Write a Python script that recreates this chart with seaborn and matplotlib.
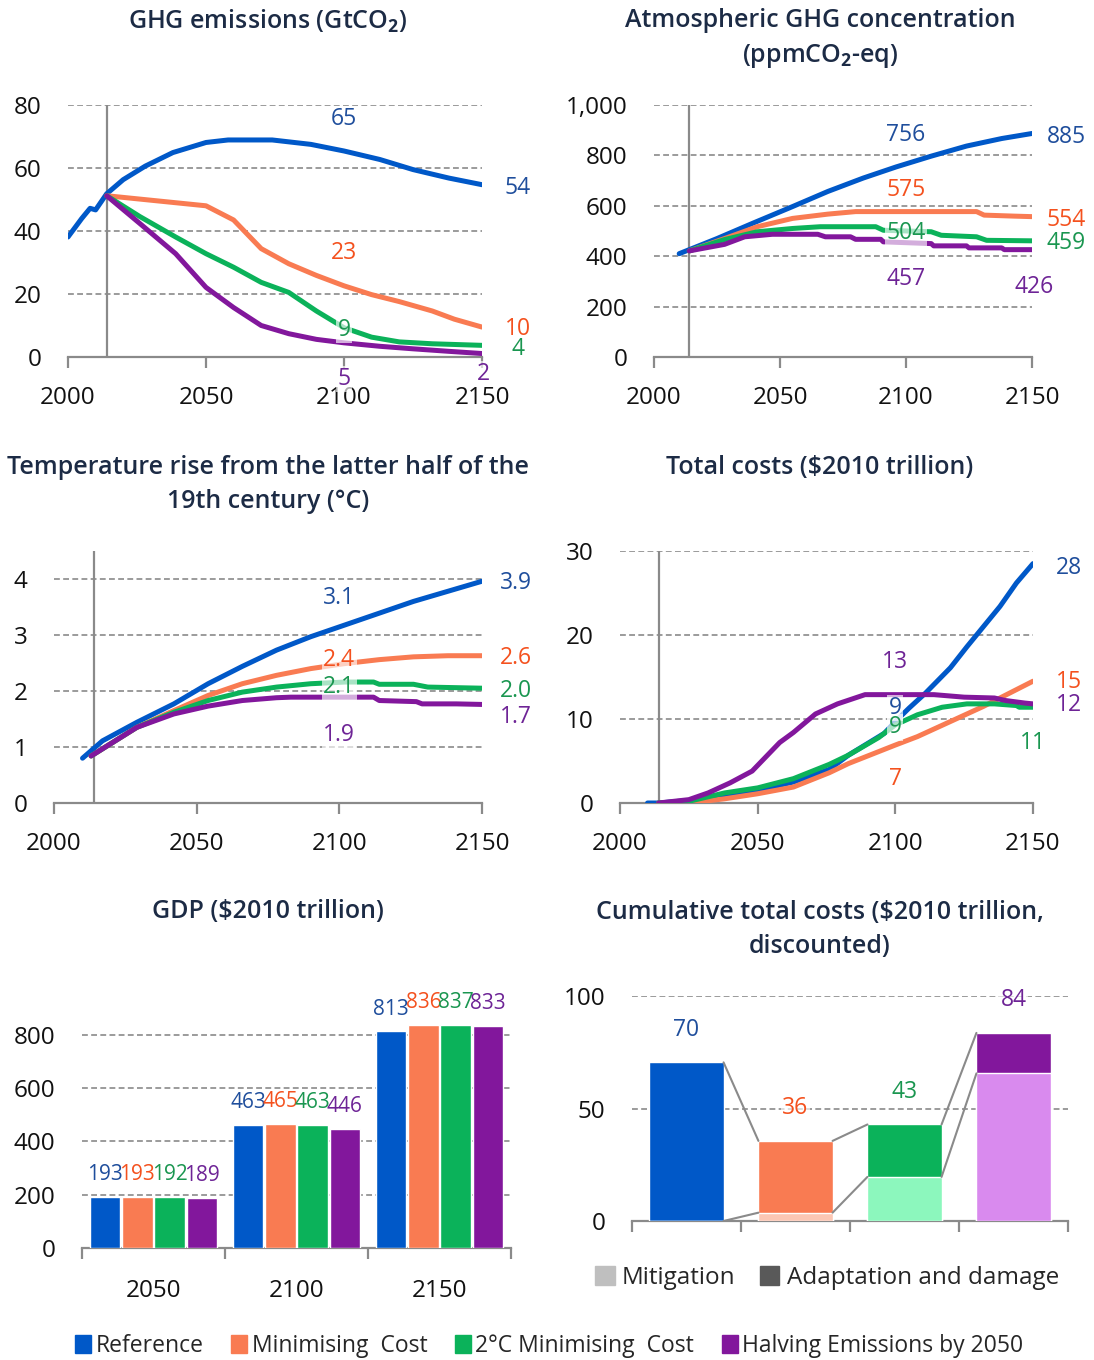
import numpy as np
import pandas as pd
import matplotlib
matplotlib.use("Agg")
import matplotlib.pyplot as plt
from matplotlib.patches import Patch
import seaborn as sns

# ---------------- data ----------------
SCENARIOS = ["Reference", "Minimising  Cost", "2°C Minimising  Cost", "Halving Emissions by 2050"]
LINE_COLORS = ["#0058C8", "#F97B52", "#0BB25A", "#82179C"]
TEXT_COLORS = ["#1F4E9C", "#F4511E", "#1A9650", "#6E2496"]
LIGHT_COLORS = ["#0058C8", "#FCC7B4", "#8CF7BD", "#D98AEE"]

# GHG emissions (GtCO2)
GHG_REF_YEARS = [2000, 2005, 2008, 2010, 2014, 2020, 2028, 2038, 2050, 2058, 2074, 2088, 2100, 2113, 2125, 2138, 2150]
GHG_REF = [38.1, 44.0, 47.2, 46.7, 51.8, 56.3, 60.6, 64.9, 68.1, 68.9, 68.9, 67.5, 65.4, 62.7, 59.5, 56.8, 54.7]
GHG_MC_YEARS = [2014, 2050, 2060, 2070, 2080, 2090, 2100, 2110, 2120, 2132, 2140, 2150]
GHG_MC = [51.2, 48.0, 43.5, 34.4, 29.6, 25.9, 22.6, 19.8, 17.6, 14.6, 12.0, 9.5]
GHG_2C_YEARS = [2014, 2026, 2039, 2050, 2060, 2070, 2080, 2090, 2100, 2110, 2120, 2132, 2150]
GHG_2C = [51.2, 44.6, 38.1, 32.8, 28.5, 23.7, 20.5, 14.6, 9.3, 6.3, 4.8, 4.2, 3.7]
GHG_HALF_YEARS = [2014, 2026, 2039, 2050, 2060, 2070, 2080, 2090, 2100, 2113, 2125, 2138, 2150]
GHG_HALF = [51.2, 42.4, 32.8, 22.1, 15.7, 10.0, 7.4, 5.6, 4.5, 3.4, 2.6, 1.8, 1.1]
GHG_MID_LABELS = ["65", "23", "9", "5"]
GHG_END_LABELS = ["54", "10", "4", "2"]

# Atmospheric GHG concentration (ppmCO2-eq)
CONC_REF_YEARS = [2010, 2025, 2039, 2055, 2069, 2083, 2096, 2110, 2124, 2138, 2150]
CONC_REF = [410, 470, 530, 597, 657, 710, 754, 797, 837, 867, 887]
CONC_MC_YEARS = [2014, 2028, 2041, 2055, 2069, 2080, 2128, 2131, 2143, 2150]
CONC_MC = [421, 470, 517, 550, 567, 577, 577, 563, 559, 557]
CONC_2C_YEARS = [2014, 2028, 2041, 2055, 2066, 2088, 2091, 2110, 2114, 2128, 2132, 2150]
CONC_2C = [421, 466, 497, 510, 517, 517, 503, 497, 483, 477, 463, 461]
CONC_HALF_YEARS = [2014, 2028, 2036, 2047, 2065, 2068, 2078, 2080, 2090, 2091, 2110, 2111, 2124, 2125, 2138, 2139, 2150]
CONC_HALF = [421, 447, 477, 487, 487, 477, 477, 467, 467, 457, 450, 441, 441, 433, 433, 426, 426]
CONC_MID_LABELS = ["756", "575", "504", "457"]
CONC_END_LABELS = ["885", "554", "459", "426"]

# Temperature rise (°C)
TEMP_REF_YEARS = [2010, 2017, 2029, 2042, 2054, 2066, 2078, 2090, 2102, 2114, 2126, 2138, 2150]
TEMP_REF = [0.80, 1.11, 1.44, 1.77, 2.13, 2.44, 2.73, 2.97, 3.18, 3.39, 3.60, 3.78, 3.96]
TEMP_MC_YEARS = [2013, 2029, 2042, 2054, 2066, 2078, 2090, 2102, 2114, 2126, 2138, 2150]
TEMP_MC = [0.84, 1.35, 1.65, 1.92, 2.13, 2.28, 2.40, 2.49, 2.56, 2.61, 2.63, 2.63]
TEMP_2C_YEARS = [2013, 2029, 2042, 2054, 2066, 2078, 2090, 2102, 2112, 2114, 2126, 2131, 2150]
TEMP_2C = [0.84, 1.35, 1.62, 1.83, 1.98, 2.07, 2.13, 2.16, 2.16, 2.12, 2.12, 2.07, 2.05]
TEMP_HALF_YEARS = [2013, 2029, 2042, 2054, 2066, 2078, 2083, 2112, 2114, 2127, 2129, 2141, 2150]
TEMP_HALF = [0.84, 1.35, 1.59, 1.73, 1.83, 1.88, 1.89, 1.89, 1.83, 1.81, 1.77, 1.77, 1.76]
TEMP_MID_LABELS = ["3.1", "2.4", "2.1", "1.9"]
TEMP_END_LABELS = ["3.9", "2.6", "2.0", "1.7"]

# Total costs ($2010 trillion)
COST_REF_YEARS = [2010, 2014, 2025, 2038, 2050, 2063, 2076, 2083, 2096, 2100, 2105, 2111, 2120, 2126, 2132, 2138, 2144, 2150]
COST_REF = [0, 0, 0.3, 0.8, 1.5, 2.5, 4.0, 5.7, 8.3, 9.7, 11.3, 13.1, 16.1, 18.6, 21.0, 23.4, 26.2, 28.5]
COST_MC_YEARS = [2014, 2025, 2038, 2050, 2063, 2076, 2083, 2100, 2108, 2120, 2132, 2144, 2150]
COST_MC = [0, 0, 0.5, 1.1, 1.9, 3.6, 4.7, 6.9, 7.9, 9.7, 11.5, 13.5, 14.5]
COST_2C_YEARS = [2014, 2025, 2038, 2050, 2063, 2076, 2083, 2094, 2100, 2108, 2117, 2126, 2136, 2144, 2145, 2150]
COST_2C = [0, 0.2, 1.2, 1.8, 2.9, 4.6, 5.7, 7.8, 9.3, 10.5, 11.4, 11.8, 11.8, 11.6, 11.4, 11.4]
COST_HALF_YEARS = [2014, 2025, 2032, 2040, 2048, 2058, 2063, 2071, 2079, 2089, 2114, 2125, 2136, 2140, 2147, 2150]
COST_HALF = [0, 0.4, 1.2, 2.4, 3.8, 7.2, 8.4, 10.6, 11.8, 12.9, 12.9, 12.6, 12.5, 12.2, 11.9, 11.8]
COST_MID_LABELS = ["9", "7", "9", "13"]
COST_END_LABELS = ["28", "15", "11", "12"]

# GDP ($2010 trillion)
GDP_YEARS = ["2050", "2100", "2150"]
GDP_REF = [193, 463, 813]
GDP_MC = [193, 465, 836]
GDP_2C = [192, 463, 837]
GDP_HALF = [189, 446, 833]

# Cumulative total costs ($2010 trillion, discounted)
CUM_TOTAL = [70.5, 35.6, 42.9, 83.6]
CUM_MITIGATION = [0.0, 3.7, 19.6, 65.6]
CUM_LABELS = ["70", "36", "43", "84"]

# ---------------- style ----------------
sns.set_theme(style="white")
plt.rcParams["font.family"] = ["Open Sans", "DejaVu Sans"]
plt.rcParams["mathtext.fontset"] = "custom"
plt.rcParams["mathtext.rm"] = "Open Sans"
plt.rcParams["mathtext.bf"] = "Open Sans:bold"
AXIS_GRAY = "#8A8A8A"
TITLE_COLOR = "#1C2B45"
TICK_FS = 17.5
LABEL_FS = 16.5

W, H = 1094, 1360
fig = plt.figure(figsize=(W / 100, H / 100), dpi=100)


def add_axes(x0, x1, y_bottom, y_top):
    return fig.add_axes([x0 / W, 1 - y_bottom / H, (x1 - x0) / W, (y_bottom - y_top) / H])


def style_axes(ax, yticks, yticklabels):
    for s in ["top", "right", "left"]:
        ax.spines[s].set_visible(False)
    ax.spines["bottom"].set_color(AXIS_GRAY)
    ax.spines["bottom"].set_linewidth(1.6)
    ax.set_yticks(yticks)
    ax.set_yticklabels(yticklabels)
    ax.tick_params(axis="y", length=0, pad=19, labelsize=TICK_FS, labelcolor="#111111")
    ax.yaxis.grid(True, linestyle=(0, (3.5, 2)), color=AXIS_GRAY, linewidth=1.2)
    ax.xaxis.grid(False)
    ax.set_xlabel("")
    ax.set_ylabel("")
    ax.set_facecolor("none")


def line_panel(ax, series, ylim, yticks, yticklabels, mid, end):
    frames = []
    for name, (yrs, vals) in zip(SCENARIOS, series):
        frames.append(pd.DataFrame({"year": yrs, "value": vals, "scenario": name}))
    df = pd.concat(frames, ignore_index=True)
    ax.axvline(2014, color=AXIS_GRAY, linewidth=1.6, zorder=1)
    sns.lineplot(data=df, x="year", y="value", hue="scenario", hue_order=SCENARIOS,
                 palette=LINE_COLORS, linewidth=3.6, legend=False, ax=ax, zorder=3,
                 solid_capstyle="round", solid_joinstyle="round")
    ax.set_xlim(2000, 2150)
    ax.set_ylim(*ylim)
    style_axes(ax, yticks, yticklabels)
    ax.set_xticks([2000, 2050, 2100, 2150])
    ax.tick_params(axis="x", direction="out", length=8, width=1.6, color=AXIS_GRAY,
                   pad=13, labelsize=TICK_FS, labelcolor="#111111", bottom=True)
    box = dict(facecolor="white", alpha=0.65, edgecolor="none", pad=1)
    for (x, y, txt, ci) in mid + end:
        ax.text(x, y, txt, color=TEXT_COLORS[ci], fontsize=LABEL_FS, ha="center", va="center",
                bbox=box, clip_on=False, zorder=5)


# Panel 1: GHG emissions
ax1 = add_axes(68, 482, 357, 105)
line_panel(ax1,
           [(GHG_REF_YEARS, GHG_REF), (GHG_MC_YEARS, GHG_MC), (GHG_2C_YEARS, GHG_2C), (GHG_HALF_YEARS, GHG_HALF)],
           (0, 80), [0, 20, 40, 60, 80], ["0", "20", "40", "60", "80"],
           [(2100, 75.5, GHG_MID_LABELS[0], 0), (2100, 33, GHG_MID_LABELS[1], 1),
            (2100, 8.6, GHG_MID_LABELS[2], 2), (2100, -7, GHG_MID_LABELS[3], 3)],
           [(2163, 53.6, GHG_END_LABELS[0], 0), (2163, 8.9, GHG_END_LABELS[1], 1),
            (2163, 2.5, GHG_END_LABELS[2], 2), (2150.5, -5.4, GHG_END_LABELS[3], 3)])

# Panel 2: concentration
ax2 = add_axes(654, 1032, 357, 105)
line_panel(ax2,
           [(CONC_REF_YEARS, CONC_REF), (CONC_MC_YEARS, CONC_MC), (CONC_2C_YEARS, CONC_2C), (CONC_HALF_YEARS, CONC_HALF)],
           (0, 1000), [0, 200, 400, 600, 800, 1000], ["0", "200", "400", "600", "800", "1,000"],
           [(2100, 880, CONC_MID_LABELS[0], 0), (2100, 663, CONC_MID_LABELS[1], 1),
            (2100, 492, CONC_MID_LABELS[2], 2), (2100, 310, CONC_MID_LABELS[3], 3)],
           [(2163.5, 873, CONC_END_LABELS[0], 0), (2163.5, 544, CONC_END_LABELS[1], 1),
            (2163.5, 452, CONC_END_LABELS[2], 2), (2151, 278, CONC_END_LABELS[3], 3)])

# Panel 3: temperature
ax3 = add_axes(54, 482, 803, 551)
line_panel(ax3,
           [(TEMP_REF_YEARS, TEMP_REF), (TEMP_MC_YEARS, TEMP_MC), (TEMP_2C_YEARS, TEMP_2C), (TEMP_HALF_YEARS, TEMP_HALF)],
           (0, 4.5), [0, 1, 2, 3, 4], ["0", "1", "2", "3", "4"],
           [(2100, 3.66, TEMP_MID_LABELS[0], 0), (2100, 2.55, TEMP_MID_LABELS[1], 1),
            (2100, 2.07, TEMP_MID_LABELS[2], 2), (2100, 1.21, TEMP_MID_LABELS[3], 3)],
           [(2162, 3.93, TEMP_END_LABELS[0], 0), (2162, 2.59, TEMP_END_LABELS[1], 1),
            (2162, 2.0, TEMP_END_LABELS[2], 2), (2162, 1.54, TEMP_END_LABELS[3], 3)])

# Panel 4: total costs
ax4 = add_axes(620, 1033, 803, 551)
line_panel(ax4,
           [(COST_REF_YEARS, COST_REF), (COST_MC_YEARS, COST_MC), (COST_2C_YEARS, COST_2C), (COST_HALF_YEARS, COST_HALF)],
           (0, 30), [0, 10, 20, 30], ["0", "10", "20", "30"],
           [(2100, 11.3, COST_MID_LABELS[0], 0), (2100, 2.9, COST_MID_LABELS[1], 1),
            (2100, 9.0, COST_MID_LABELS[2], 2), (2100, 16.8, COST_MID_LABELS[3], 3)],
           [(2163, 28.0, COST_END_LABELS[0], 0), (2163, 14.4, COST_END_LABELS[1], 1),
            (2150, 7.1, COST_END_LABELS[2], 2), (2163, 11.7, COST_END_LABELS[3], 3)])

# Panel 5: GDP bars
ax5 = add_axes(82, 511, 1248, 1008)
gdp_df = pd.DataFrame({
    "year": GDP_YEARS * 4,
    "gdp": GDP_REF + GDP_MC + GDP_2C + GDP_HALF,
    "scenario": sum([[s] * 3 for s in SCENARIOS], []),
})
sns.barplot(data=gdp_df, x="year", y="gdp", hue="scenario", hue_order=SCENARIOS,
            palette=LINE_COLORS, width=0.9, gap=0.06, saturation=1, legend=False, ax=ax5, zorder=3)
ax5.set_xlim(-0.5, 2.5)
ax5.set_ylim(0, 900)
style_axes(ax5, [0, 200, 400, 600, 800], ["0", "200", "400", "600", "800"])
ax5.set_xticks([0, 1, 2])
ax5.set_xticklabels(GDP_YEARS)
ax5.set_xticks([-0.5, 0.5, 1.5, 2.5], minor=True)
ax5.tick_params(axis="x", which="major", length=0, pad=22, labelsize=TICK_FS, labelcolor="#111111")
ax5.tick_params(axis="x", which="minor", direction="out", length=8, width=1.6, color=AXIS_GRAY, bottom=True)
for ci, cont in enumerate(ax5.containers):
    for bar in cont:
        h = bar.get_height()
        ax5.text(bar.get_x() + bar.get_width() / 2, h + 83, f"{h:.0f}", color=TEXT_COLORS[ci],
                 fontsize=15, ha="center", va="center", clip_on=False, zorder=5)

# Panel 6: cumulative costs
ax6 = add_axes(632, 1068, 1221, 996)
cats = SCENARIOS
BW = 0.68
sns.barplot(x=cats, y=CUM_TOTAL, hue=cats, hue_order=cats, palette=LINE_COLORS,
            width=BW, saturation=1, legend=False, ax=ax6, zorder=3)
sns.barplot(x=cats, y=CUM_MITIGATION, hue=cats, hue_order=cats, palette=LIGHT_COLORS,
            width=BW, saturation=1, legend=False, ax=ax6, zorder=4)
ax6.set_xlim(-0.5, 3.5)
ax6.set_ylim(0, 100)
style_axes(ax6, [0, 50, 100], ["0", "50", "100"])
ax6.set_xticks([])
ax6.set_xticks([-0.5, 0.5, 1.5, 2.5, 3.5], minor=True)
ax6.tick_params(axis="x", which="minor", direction="out", length=8, width=1.6, color=AXIS_GRAY, bottom=True)
for i in range(3):
    for vals in (CUM_TOTAL, CUM_MITIGATION):
        ax6.plot([i + BW / 2, i + 1 - BW / 2], [vals[i], vals[i + 1]], color=AXIS_GRAY, lw=1.5, zorder=5)
box = dict(facecolor="white", alpha=0.65, edgecolor="none", pad=1)
for i, (tot, lab) in enumerate(zip(CUM_TOTAL, CUM_LABELS)):
    ax6.text(i, tot + 14.5, lab, color=TEXT_COLORS[i], fontsize=LABEL_FS, ha="center", va="center",
             bbox=box, clip_on=False, zorder=6)

fig.legend(handles=[Patch(color="#BFBFBF", label="Mitigation"),
                    Patch(color="#595959", label="Adaptation and damage")],
           loc="center", bbox_to_anchor=(827 / W, 1 - 1278 / H), ncol=2, frameon=False,
           fontsize=17.5, handlelength=0.8, handleheight=0.8, handletextpad=0.3, columnspacing=1.0)

# Bottom legend
fig.legend(handles=[Patch(color=c, label=s) for c, s in zip(LINE_COLORS, SCENARIOS)],
           loc="center", bbox_to_anchor=(549 / W, 1 - 1346 / H), ncol=4, frameon=False,
           fontsize=16.5, handlelength=0.7, handleheight=0.8, handletextpad=0.2, columnspacing=1.2)

# Titles
TKW = dict(fontsize=18, fontweight="semibold", color=TITLE_COLOR, ha="center", va="center", linespacing=1.45)
fig.text(268 / W, 1 - 21 / H, r"GHG emissions (GtCO$_\mathbf{2}$)", **TKW)
fig.text(820 / W, 1 - 39 / H, "Atmospheric GHG concentration\n" + r"(ppmCO$_\mathbf{2}$-eq)", **TKW)
fig.text(268 / W, 1 - 484.5 / H, "Temperature rise from the latter half of the\n19th century (°C)", **TKW)
fig.text(820 / W, 1 - 467 / H, "Total costs ($2010 trillion)", **TKW)
fig.text(268 / W, 1 - 912 / H, "GDP ($2010 trillion)", **TKW)
fig.text(820 / W, 1 - 929.5 / H, "Cumulative total costs ($2010 trillion,\ndiscounted)", **TKW)

fig.savefig("out.png", dpi=100, facecolor="white")
